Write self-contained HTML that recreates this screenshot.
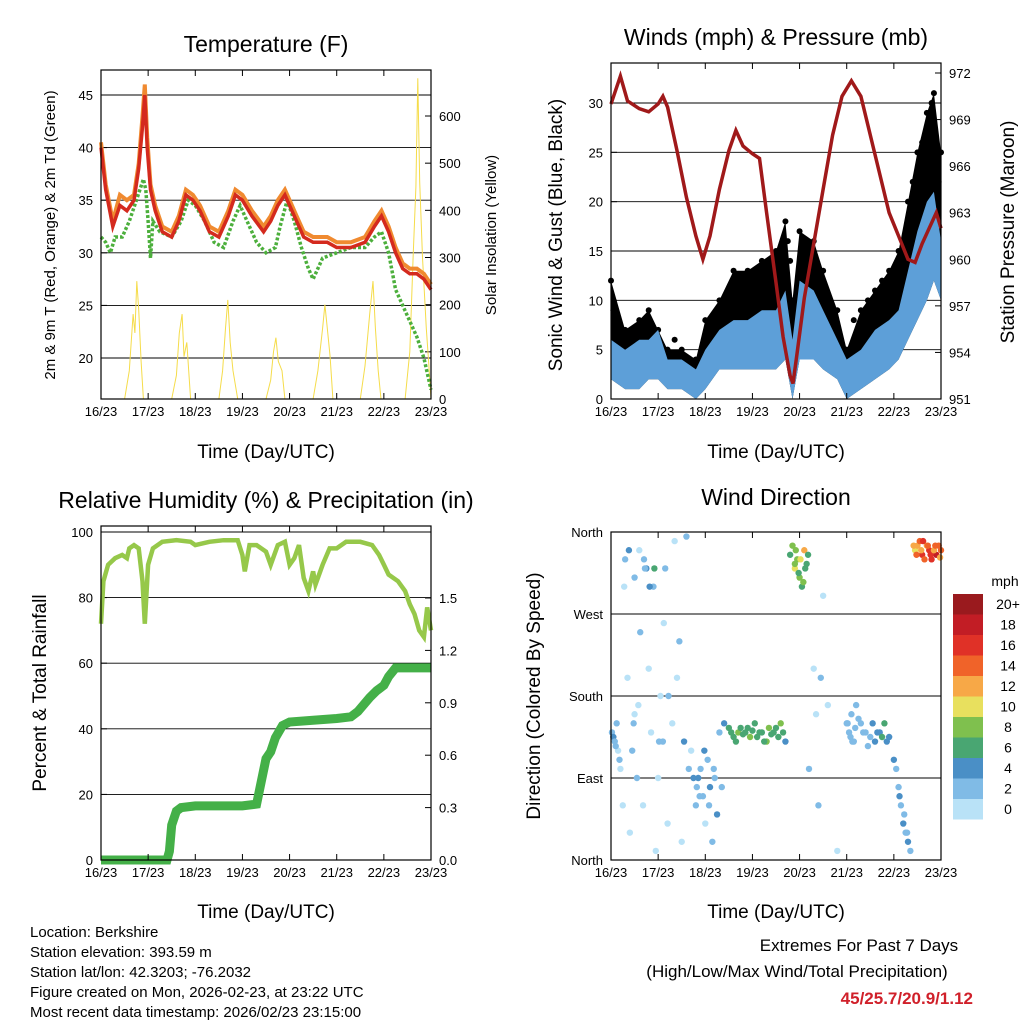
<!DOCTYPE html>
<html><head><meta charset="utf-8">
<style>
html,body{margin:0;padding:0;background:#fff;}
svg text{font-family:"Liberation Sans",sans-serif;fill:#000;}
</style></head>
<body>
<svg id="chart" width="1024" height="1024" viewBox="0 0 1024 1024" xmlns="http://www.w3.org/2000/svg">
<rect x="0" y="0" width="1024" height="1024" fill="#fff"/>
<g id="layer"></g>
<text x="266" y="52" font-size="23" text-anchor="middle">Temperature (F)</text>
<text x="776" y="45" font-size="23" text-anchor="middle">Winds (mph) &amp; Pressure (mb)</text>
<text x="266" y="508" font-size="23" text-anchor="middle">Relative Humidity (%) &amp; Precipitation (in)</text>
<text x="776" y="505" font-size="23" text-anchor="middle">Wind Direction</text>
<text x="266" y="458" font-size="19" text-anchor="middle">Time (Day/UTC)</text>
<text x="776" y="458" font-size="19" text-anchor="middle">Time (Day/UTC)</text>
<text x="266" y="918" font-size="19" text-anchor="middle">Time (Day/UTC)</text>
<text x="776" y="918" font-size="19" text-anchor="middle">Time (Day/UTC)</text>
<text transform="translate(55,235) rotate(-90)" font-size="15" text-anchor="middle">2m &amp; 9m T (Red, Orange) &amp; 2m Td (Green)</text>
<text transform="translate(496,235) rotate(-90)" font-size="15" text-anchor="middle">Solar Insolation (Yellow)</text>
<text transform="translate(562,235) rotate(-90)" font-size="19" text-anchor="middle">Sonic Wind &amp; Gust (Blue, Black)</text>
<text transform="translate(1014,232) rotate(-90)" font-size="19" text-anchor="middle">Station Pressure (Maroon)</text>
<text transform="translate(46,693) rotate(-90)" font-size="19" text-anchor="middle">Percent &amp; Total Rainfall</text>
<text transform="translate(540,696) rotate(-90)" font-size="19" text-anchor="middle">Direction (Colored By Speed)</text>
<g font-size="15">
<text x="30" y="937">Location: Berkshire</text>
<text x="30" y="957">Station elevation: 393.59 m</text>
<text x="30" y="977">Station lat/lon: 42.3203; -76.2032</text>
<text x="30" y="997">Figure created on Mon, 2026-02-23, at 23:22 UTC</text>
<text x="30" y="1017">Most recent data timestamp: 2026/02/23 23:15:00</text>
</g>
<text x="859" y="951" font-size="17" text-anchor="middle">Extremes For Past 7 Days</text>
<text x="797" y="977" font-size="17" text-anchor="middle">(High/Low/Max Wind/Total Precipitation)</text>
<text x="973" y="1004" font-size="17" font-weight="bold" text-anchor="end" style="fill:#d0202a">45/25.7/20.9/1.12</text>
</svg>
<script>
// ---- data ----
const xLabels = ["16/23","17/23","18/23","19/23","20/23","21/23","22/23","23/23"];
const tempT = [0,0.1,0.25,0.4,0.55,0.7,0.8,0.88,0.93,0.98,1.05,1.15,1.3,1.5,1.65,1.8,1.95,2.1,2.3,2.5,2.7,2.85,3.0,3.2,3.45,3.6,3.75,3.9,4.0,4.15,4.3,4.5,4.8,5.0,5.3,5.6,5.8,5.95,6.1,6.25,6.4,6.55,6.7,6.85,7.0];
const tempRed = [40,36,32.5,34.5,34,35,38,42,45,40,36,34,32,31.5,33,35.5,35,34,32,31.5,33.5,35.5,35,33.5,32,33,34.5,35.5,34.5,33,31.5,31,31,30.5,30.5,31,32.5,33.5,32,30,28.5,28,28,27.5,26.5];
const tempOrange = [40.5,36.5,33,35.5,35,35.5,38.5,43,46,41,36.5,34.5,32.5,32,33.5,36,35.5,34.5,32.5,32,34,36,35.5,34,32.5,33.5,35,36,35,33.5,32,31.5,31.5,31,31,31.5,33,34,32.5,30.5,29,28.5,28.5,28,27];
const dewT = [0,0.1,0.2,0.3,0.45,0.6,0.75,0.9,0.95,1.0,1.05,1.1,1.25,1.5,1.7,1.85,2.0,2.2,2.4,2.6,2.8,2.95,3.1,3.3,3.5,3.7,3.8,3.95,4.1,4.25,4.4,4.5,4.7,5.0,5.3,5.6,5.8,5.95,6.1,6.25,6.4,6.55,6.7,6.85,7.0];
const dewValues = [31.5,31,30,31.5,31.5,33,35,37,36,33,29.5,33,32,31.5,33,35,34.5,33,31,30.5,33,34.5,33,31,30,30.5,32.5,35,33,30.5,28.5,27.5,29.5,30,30.5,30.5,31.5,32,30,26.5,25,23.5,22,20,17];
const solarT = [0,0.5,0.6,0.68,0.72,0.76,0.8,0.85,0.9,1.5,1.6,1.66,1.72,1.76,1.82,1.9,2.5,2.58,2.64,2.69,2.74,2.8,2.9,3.5,3.6,3.66,3.71,3.76,3.84,3.9,4.5,4.6,4.7,4.75,4.8,4.86,4.92,5.5,5.6,5.7,5.77,5.82,5.88,5.94,6.45,6.55,6.62,6.68,6.72,6.76,6.82,6.9,6.95,7.0];
const solarValues = [0,0,60,180,140,250,190,80,0,0,50,140,180,90,120,0,0,60,150,210,120,60,0,0,40,100,130,80,60,0,0,60,150,200,150,90,0,0,70,180,250,150,60,0,0,100,300,450,680,460,300,150,80,0];
const presT = [0,0.2,0.35,0.6,0.8,1.0,1.1,1.2,1.4,1.6,1.8,1.95,2.1,2.3,2.5,2.65,2.8,3.0,3.15,3.3,3.5,3.65,3.8,3.86,3.95,4.1,4.3,4.5,4.7,4.9,5.1,5.3,5.5,5.7,5.9,6.1,6.3,6.45,6.6,6.75,6.9,7.0];
const presValues = [970,971.8,970.2,969.7,969.5,970,970.5,969.8,967,964,961.5,960,961.5,964.5,967,968.3,967.3,966.8,966.5,963,958.5,955,952.5,952,954,957.5,961,964.5,968,970.5,971.5,970.5,968,965.5,963,961.5,960,959.8,961,962,963,962];
const windT = [0,0.3,0.6,0.8,1.0,1.2,1.5,1.8,2.0,2.3,2.6,2.9,3.2,3.5,3.7,3.85,4.0,4.3,4.5,4.8,5.0,5.3,5.6,5.9,6.1,6.3,6.5,6.7,6.85,7.0];
const windLow = [2,1,1,2,2,1,1,0,1,3,3,3,3,3,4,0,4,4,3,2,0,1,2,3,4,6,8,10,12,10];
const windHigh = [6,5,6,6,7,4,4,3,5,7,8,8,9,9,11,6,12,11,9,6,4,5,7,8,9,13,17,20,21,16];
const gustHigh = [12,7,8,9,7,5,5,4,8,10,13,13,14,15,18,10,17,16,13,9,5,9,11,13,15,20,25,29,31,25];
const gustDotT = [0.05,0.15,0.45,0.7,0.9,1.1,1.35,1.65,2.15,2.45,2.75,3.05,3.35,3.6,3.75,3.8,4.1,4.2,4.4,4.65,5.15,5.45,5.75,6.0,6.2,6.4,6.6,6.75,6.8,6.95];
const gustDotV = [9,8,6,8,7,5,6,4,8,10,12,11,12,13,16,14,15,14,12,10,8,10,12,13,16,22,26,27,30,22];
const rhT = [0,0.05,0.15,0.3,0.45,0.55,0.6,0.7,0.8,0.88,0.93,1.0,1.1,1.3,1.6,1.9,2.0,2.3,2.6,2.9,3.0,3.05,3.15,3.3,3.5,3.6,3.75,3.9,4.0,4.1,4.2,4.3,4.4,4.5,4.55,4.7,4.85,5.0,5.2,5.5,5.75,5.9,6.0,6.1,6.3,6.45,6.55,6.65,6.75,6.85,6.92,7.0];
const rhValues = [72,85,90,92,93,92,95,96,95,85,72,90,95,97,97.5,97,96,97,97.5,97.5,93,88,96,96,94,90,96,97,90,92,96,86,82,88,84,90,95,95,97,97,96,93,90,87,85,82,78,75,70,68,77,70];
const precipT = [0,1.4,1.45,1.5,1.6,1.7,2.0,3.0,3.3,3.4,3.5,3.6,3.7,3.85,4.0,4.5,5.0,5.3,5.45,5.7,5.85,6.0,6.1,6.25,7.0];
const precipValues = [0,0,0.05,0.2,0.28,0.3,0.31,0.31,0.32,0.45,0.58,0.62,0.7,0.77,0.79,0.8,0.81,0.82,0.85,0.93,0.97,1.0,1.05,1.1,1.1];
const dirT = [0.02,0.05,0.08,0.12,0.15,0.2,0.25,0.3,0.35,0.4,0.45,0.5,0.5,0.55,0.6,0.62,0.68,0.7,0.75,0.8,0.85,0.9,0.95,1.0,1.05,1.1,1.15,1.2,1.3,1.4,1.5,1.6,1.7,1.8,1.85,1.9,1.95,2.0,2.05,2.1,2.15,2.2,2.3,2.4,2.5,2.6,2.7,2.8,2.9,3.0,3.1,3.2,3.3,3.4,3.5,3.6,3.7,3.8,3.85,3.9,3.95,4.0,4.05,4.1,4.15,4.2,4.3,4.4,4.5,4.6,4.8,5.0,5.05,5.1,5.15,5.2,5.3,5.4,5.5,5.6,5.7,5.8,5.9,6.0,6.1,6.15,6.2,6.25,6.3,6.35,6.45,6.5,6.55,6.6,6.65,6.7,6.75,6.8,6.9,6.95,7.0,
 0.1,0.18,0.28,0.38,0.48,0.58,0.72,0.82,0.92,1.02,1.12,1.22,1.35,1.45,1.55,1.65,1.75,1.82,1.88,1.98,2.08,2.18,2.25,2.35,2.55,2.65,2.75,2.85,2.95,3.05,3.15,3.25,3.35,3.45,3.55,3.65,3.9,3.92,3.98,4.02,4.08,4.12,4.18,4.35,4.45,5.02,5.08,5.12,5.18,5.25,5.35,5.45,5.55,5.65,5.75,5.85,6.05,6.12,6.22,6.28,6.42,6.48,6.58,6.62,6.72,6.78,6.85,6.88,6.98];
const dirValues = [140,135,130,150,120,100,60,330,200,30,120,310,160,90,340,250,60,330,320,210,140,300,10,90,180,130,320,40,150,200,20,355,120,60,90,100,70,40,110,80,20,90,140,150,145,135,140,138,145,142,135,140,130,138,145,150,130,335,345,320,330,310,300,340,325,100,210,60,290,170,10,150,140,160,130,170,150,140,135,130,140,150,135,110,80,60,40,30,20,10,340,345,350,335,330,345,340,330,335,345,340,
 125,110,300,340,150,170,320,300,320,130,260,180,350,240,130,100,90,80,70,120,60,100,50,80,140,130,145,140,135,150,140,130,145,140,135,140,325,340,315,330,305,320,335,160,200,150,135,130,145,155,140,125,150,140,135,130,100,70,50,30,345,335,340,350,345,335,340,345,332];
const dirSpeed = [3,4,2,3,1,1,1,2,1,1,2,3,1,2,1,2,1,3,4,1,1,2,1,1,1,2,2,1,1,1,1,2,1,3,4,3,2,1,3,4,2,3,2,5,7,7,8,6,7,7,6,7,8,6,7,9,5,6,8,10,9,8,6,12,7,2,1,2,1,1,1,2,2,3,3,2,3,3,2,4,5,6,5,4,3,3,4,3,4,3,11,13,14,16,15,13,17,16,18,14,15,
 3,2,1,4,2,1,3,4,6,3,1,2,1,2,4,3,4,2,3,4,3,2,4,3,6,7,7,6,8,7,6,7,8,7,6,7,8,9,7,10,8,6,7,1,2,2,3,2,2,3,3,2,4,5,6,5,3,4,3,2,12,15,13,17,14,16,13,15,12];
const cbLabels = ["20+","18","16","14","12","10","8","6","4","2","0"];
const cbColors = ["#9a1a1e","#c21d25","#e03127","#f06329","#f7a847","#e8e05e","#7fc04e","#49a672","#4a8fc6","#80bbe6","#b9e2f7"];

// ---- helpers ----
const NS = "http://www.w3.org/2000/svg";
const layer = document.getElementById("layer");
function mk(tag, attrs, parent){ const e=document.createElementNS(NS,tag); for(const k in attrs) e.setAttribute(k,attrs[k]); (parent||layer).appendChild(e); return e; }
function lin(d0,d1,p0,p1){ return v=>p0+(v-d0)*(p1-p0)/(d1-d0); }
function pathFrom(xs,ys,sx,sy){ return xs.map((t,i)=>(i?"L":"M")+sx(t).toFixed(1)+","+sy(ys[i]).toFixed(1)).join(" "); }
function frame(x0,y0,x1,y1,name){
  const r=mk("rect",{x:x0,y:y0,width:x1-x0,height:y1-y0,fill:"none",stroke:"#000","stroke-width":1.2});
  
  
}
function xAxis(x0,x1,y1,yTop,name){
  const sx=lin(0,7,x0,x1);
  xLabels.forEach((lb,i)=>{
    const x=sx(i);
    mk("line",{x1:x,y1:y1,x2:x,y2:y1-6,stroke:"#000"});
    mk("line",{x1:x,y1:yTop,x2:x,y2:yTop+6,stroke:"#000"});
    const t=mk("text",{x:x,y:y1+17,"font-size":13,"text-anchor":"middle"}); t.textContent=lb;
    
    
  });
  return sx;
}
function yTicks(vals,labels,sy,x0,x1,side,grid,name){
  vals.forEach((v,i)=>{
    const y=sy(v);
    if(grid){ const g=mk("line",{x1:x0,y1:y,x2:x1,y2:y,stroke:"#000","stroke-width":0.9});   }
    const ax= side==="left"?x0:x1, dir= side==="left"?1:-1;
    mk("line",{x1:ax,y1:y,x2:ax+dir*6,y2:y,stroke:"#000"});
    const t=mk("text",{x: side==="left"? x0-8 : x1+8, y:y+5,"font-size":13,"text-anchor": side==="left"?"end":"start"});
    t.textContent=labels[i];
    
    
  });
}
function speedColor(s){ const idx=Math.min(10,Math.floor(s/2)); return cbColors[10-idx]; }

// ---- panel 1: temperature ----
(function(){
  const x0=101,x1=431,y0=70,y1=399;
  const sy=lin(20,45,358,95), ss=lin(0,600,399,116);
  const sx=lin(0,7,x0,x1);
  yTicks([20,25,30,35,40,45],["20","25","30","35","40","45"],sy,x0,x1,"left",true,"temp-y");
  yTicks([0,100,200,300,400,500,600],["0","100","200","300","400","500","600"],ss,x0,x1,"right",false,"solar-y");
  let p=mk("path",{d:pathFrom(solarT,solarValues,sx,ss),fill:"none",stroke:"#f5dc4a","stroke-width":1});
   
  p=mk("path",{d:pathFrom(dewT,dewValues,sx,sy),fill:"none",stroke:"#4caf3c","stroke-width":3.5,"stroke-dasharray":"3 2"});
   
  p=mk("path",{d:pathFrom(tempT,tempOrange,sx,sy),fill:"none",stroke:"#f08a30","stroke-width":4});
   
  p=mk("path",{d:pathFrom(tempT,tempRed,sx,sy),fill:"none",stroke:"#d42a1e","stroke-width":3.5});
   
  xAxis(x0,x1,y1,y0,"temp-x");
  frame(x0,y0,x1,y1,"temperature-plot-frame");
})();

// ---- panel 2: winds & pressure ----
(function(){
  const x0=611,x1=941,y0=63,y1=399;
  const sy=lin(0,30,399,103), sp=lin(951,972,399,73);
  const sx=lin(0,7,x0,x1);
  yTicks([0,5,10,15,20,25,30],["0","5","10","15","20","25","30"],sy,x0,x1,"left",true,"wind-y");
  yTicks([951,954,957,960,963,966,969,972],["951","954","957","960","963","966","969","972"],sp,x0,x1,"right",false,"pressure-y");
  const gustPts = windT.map((t,i)=>sx(t).toFixed(1)+","+sy(gustHigh[i]).toFixed(1)).concat(windT.slice().reverse().map((t,j)=>{const i=windT.length-1-j;return sx(t).toFixed(1)+","+sy(windLow[i]).toFixed(1);}));
  let p=mk("polygon",{points:gustPts.join(" "),fill:"#000"});
   
  windT.forEach((t,i)=>{
    const c=mk("circle",{cx:sx(t),cy:sy(gustHigh[i]),r:3,fill:"#000"});
     
  });
  gustDotT.forEach((t,i)=>{
    const c=mk("circle",{cx:sx(t),cy:sy(gustDotV[i]),r:3,fill:"#000"});
     
  });
  const windPts = windT.map((t,i)=>sx(t).toFixed(1)+","+sy(windHigh[i]).toFixed(1)).concat(windT.slice().reverse().map((t,j)=>{const i=windT.length-1-j;return sx(t).toFixed(1)+","+sy(windLow[i]).toFixed(1);}));
  p=mk("polygon",{points:windPts.join(" "),fill:"#5d9fd8"});
   
  p=mk("path",{d:pathFrom(presT,presValues,sx,sp),fill:"none",stroke:"#a0191a","stroke-width":3.5});
   
  xAxis(x0,x1,y1,y0,"wind-x");
  frame(x0,y0,x1,y1,"winds-plot-frame");
})();

// ---- panel 3: humidity & precipitation ----
(function(){
  const x0=101,x1=431,y0=526,y1=860;
  const sy=lin(0,100,860,532), sr=lin(0,1.5,860,598);
  const sx=lin(0,7,x0,x1);
  yTicks([0,20,40,60,80,100],["0","20","40","60","80","100"],sy,x0,x1,"left",true,"humidity-y");
  yTicks([0,0.3,0.6,0.9,1.2,1.5],["0.0","0.3","0.6","0.9","1.2","1.5"],sr,x0,x1,"right",false,"precip-y");
  let p=mk("path",{d:pathFrom(precipT,precipValues,sx,sr),fill:"none",stroke:"#44b048","stroke-width":9});
   
  p=mk("path",{d:pathFrom(rhT,rhValues,sx,sy),fill:"none",stroke:"#96c84a","stroke-width":4.5});
   
  xAxis(x0,x1,y1,y0,"humidity-x");
  frame(x0,y0,x1,y1,"humidity-plot-frame");
})();

// ---- panel 4: wind direction ----
(function(){
  const x0=611,x1=941,y0=532,y1=860;
  const sy=lin(0,360,860,532);
  const sx=lin(0,7,x0,x1);
  yTicks([0,90,180,270,360],["North","East","South","West","North"],sy,x0,x1,"left",true,"direction-y");
  dirT.forEach((t,i)=>{
    const c=mk("circle",{cx:sx(t),cy:sy(dirValues[i]),r:3.2,fill:speedColor(dirSpeed[i])});
     
  });
  xAxis(x0,x1,y1,y0,"direction-x");
  frame(x0,y0,x1,y1,"direction-plot-frame");
  // colorbar
  const bx=953,by=594,bw=30,bh=20.5;
  const t=mk("text",{x:1005,y:586,"font-size":14,"text-anchor":"middle"}); t.textContent="mph";
   
  cbColors.forEach((c,i)=>{
    const r=mk("rect",{x:bx,y:by+i*bh,width:bw,height:bh,fill:c});
     
    const l=mk("text",{x:1008,y:by+i*bh+15,"font-size":14,"text-anchor":"middle"}); l.textContent=cbLabels[i];
     
  });
})();
</script>
</body></html>
